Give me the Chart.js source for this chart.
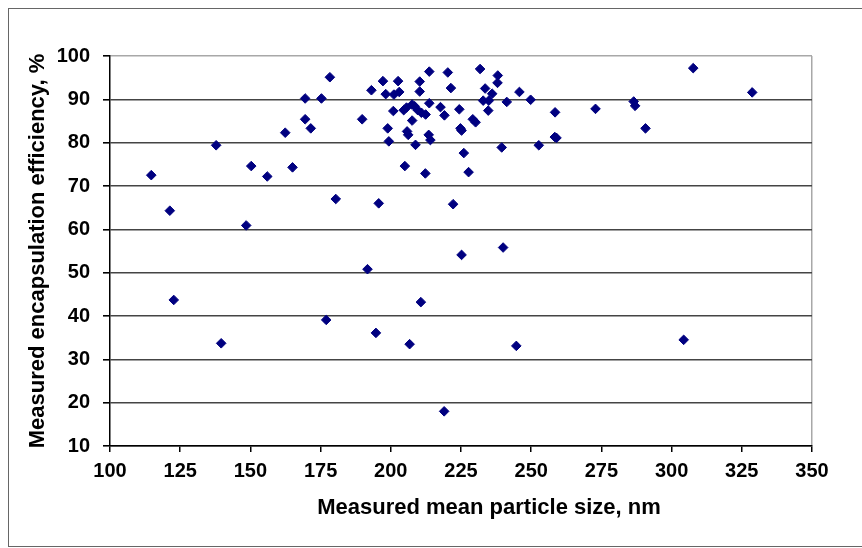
<!DOCTYPE html>
<html>
<head>
<meta charset="utf-8">
<script src="https://cdn.jsdelivr.net/npm/chart.js@4"></script>
<style>
  html, body { margin: 0; padding: 0; background: #fff; }
  #wrap { width: 862px; height: 548px; position: relative; }
</style>
</head>
<body>
<div id="wrap"><canvas id="c" width="862" height="548"></canvas></div>
<script>
const particleSize = [
  114.7, 121.3, 122.7, 137.8, 139.6, 148.5, 150.3, 156.0, 162.4, 165.0,
  169.5, 169.5, 171.5, 175.3, 177.0, 178.3, 180.4, 189.8, 191.7, 193.1,
  194.7, 195.7, 197.2, 198.2, 198.9, 199.3, 200.9, 201.1, 202.6, 203.0,
  204.6, 205.0, 205.6, 205.8, 206.2, 206.7, 207.6, 207.6, 208.5, 208.8,
  209.6, 210.3, 210.3, 210.7, 210.9, 212.3, 212.4, 213.5, 213.7, 213.7,
  214.1, 217.7, 219.0, 219.1, 220.3, 221.4, 222.2, 224.4, 224.8, 225.2,
  225.2, 226.0, 227.7, 229.2, 230.2, 231.8, 232.9, 233.6, 234.7, 234.9,
  236.1, 238.0, 238.1, 239.5, 240.0, 241.3, 244.7, 245.8, 249.8, 252.7,
  258.4, 259.0, 258.5, 272.9, 286.5, 287.0, 290.7, 304.3, 307.7, 328.7
];
const efficiency = [
  72.5, 64.3, 43.7, 79.4, 33.7, 60.9, 74.6, 72.2, 82.3, 74.3,
  90.2, 85.4, 83.3, 90.2, 39.1, 95.1, 67.0, 85.4, 50.8, 92.1,
  36.1, 66.0, 94.2, 91.2, 83.3, 80.3, 87.3, 91.1, 94.2, 91.7,
  87.5, 74.6, 88.1, 82.6, 81.8, 33.5, 88.8, 85.1, 88.4, 79.5,
  87.5, 94.1, 91.8, 43.2, 86.9, 72.9, 86.5, 81.8, 96.4, 89.1,
  80.6, 88.2, 18.0, 86.3, 96.2, 92.6, 65.8, 87.7, 83.3, 82.8,
  54.1, 77.6, 73.2, 85.4, 84.7, 97.0, 89.7, 92.5, 87.4, 89.7,
  91.3, 93.8, 95.5, 78.9, 55.8, 89.4, 33.1, 91.7, 89.9, 79.4,
  81.3, 81.1, 87.0, 87.8, 89.5, 88.5, 83.3, 34.5, 97.2, 91.6
];
const xTicks = [100, 125, 150, 175, 200, 225, 250, 275, 300, 325, 350];
const yTicks = [10, 20, 30, 40, 50, 60, 70, 80, 90, 100];
const xTitle = 'Measured mean particle size, nm';
const yTitle = 'Measured encapsulation efficiency, %';

const points = particleSize.map((x, i) => ({ x: x, y: efficiency[i] }));
const FONT = 'Arial, "Liberation Sans", sans-serif';

const framePlugin = {
  id: 'frame',
  afterDraw(chart) {
    const ctx = chart.ctx;
    ctx.save();
    ctx.strokeStyle = '#666';
    ctx.lineWidth = 1;
    ctx.strokeRect(8.5, 8.5, 900, 538);
    // x-axis title, offset to the right as in the original figure
    ctx.fillStyle = '#000';
    ctx.font = 'bold 22px ' + FONT;
    ctx.textAlign = 'center';
    ctx.textBaseline = 'middle';
    ctx.fillText(xTitle, 489, 508);
    ctx.restore();
  }
};

new Chart(document.getElementById('c'), {
  type: 'scatter',
  data: {
    datasets: [{
      data: points,
      pointStyle: 'rectRot',
      pointRadius: 4.8,
      pointHoverRadius: 4.8,
      backgroundColor: '#000080',
      borderColor: '#000080',
      borderWidth: 1
    }]
  },
  options: {
    responsive: false,
    animation: false,
    events: [],
    layout: { padding: { left: 0, top: 56, right: 50, bottom: 0 } },
    plugins: { legend: { display: false }, tooltip: { enabled: false } },
    scales: {
      x: {
        type: 'linear',
        min: 100, max: 350,
        afterBuildTicks: s => { s.ticks = xTicks.map(v => ({ value: v })); },
        afterFit: s => { s.height = 102; },
        border: { display: true, color: '#000', width: 1.5 },
        grid: {
          drawOnChartArea: true,
          color: c => (c.tick && c.tick.value === 350) ? '#a8a8a8' : 'rgba(0,0,0,0)',
          lineWidth: 1.5,
          tickColor: '#000',
          tickLength: 6
        },
        ticks: {
          color: '#000',
          padding: 7,
          maxRotation: 0,
          autoSkip: false,
          font: { family: FONT, size: 20, weight: 'bold' }
        },
        title: { display: false }
      },
      y: {
        type: 'linear',
        min: 10, max: 100,
        afterBuildTicks: s => { s.ticks = yTicks.map(v => ({ value: v })); },
        afterFit: s => { s.width = 110; },
        border: { display: true, color: '#000', width: 1.5 },
        grid: {
          color: c => (c.tick && c.tick.value === 100) ? '#a8a8a8' : '#444',
          lineWidth: 1.6,
          tickColor: '#000',
          tickLength: 7
        },
        ticks: {
          color: '#000',
          padding: 13,
          autoSkip: false,
          font: { family: FONT, size: 20, weight: 'bold' }
        },
        title: {
          display: true,
          text: yTitle,
          color: '#000',
          font: { family: FONT, size: 22, weight: 'bold' },
          padding: { top: 25, bottom: 0 }
        }
      }
    }
  },
  plugins: [framePlugin]
});
</script>
</body>
</html>
